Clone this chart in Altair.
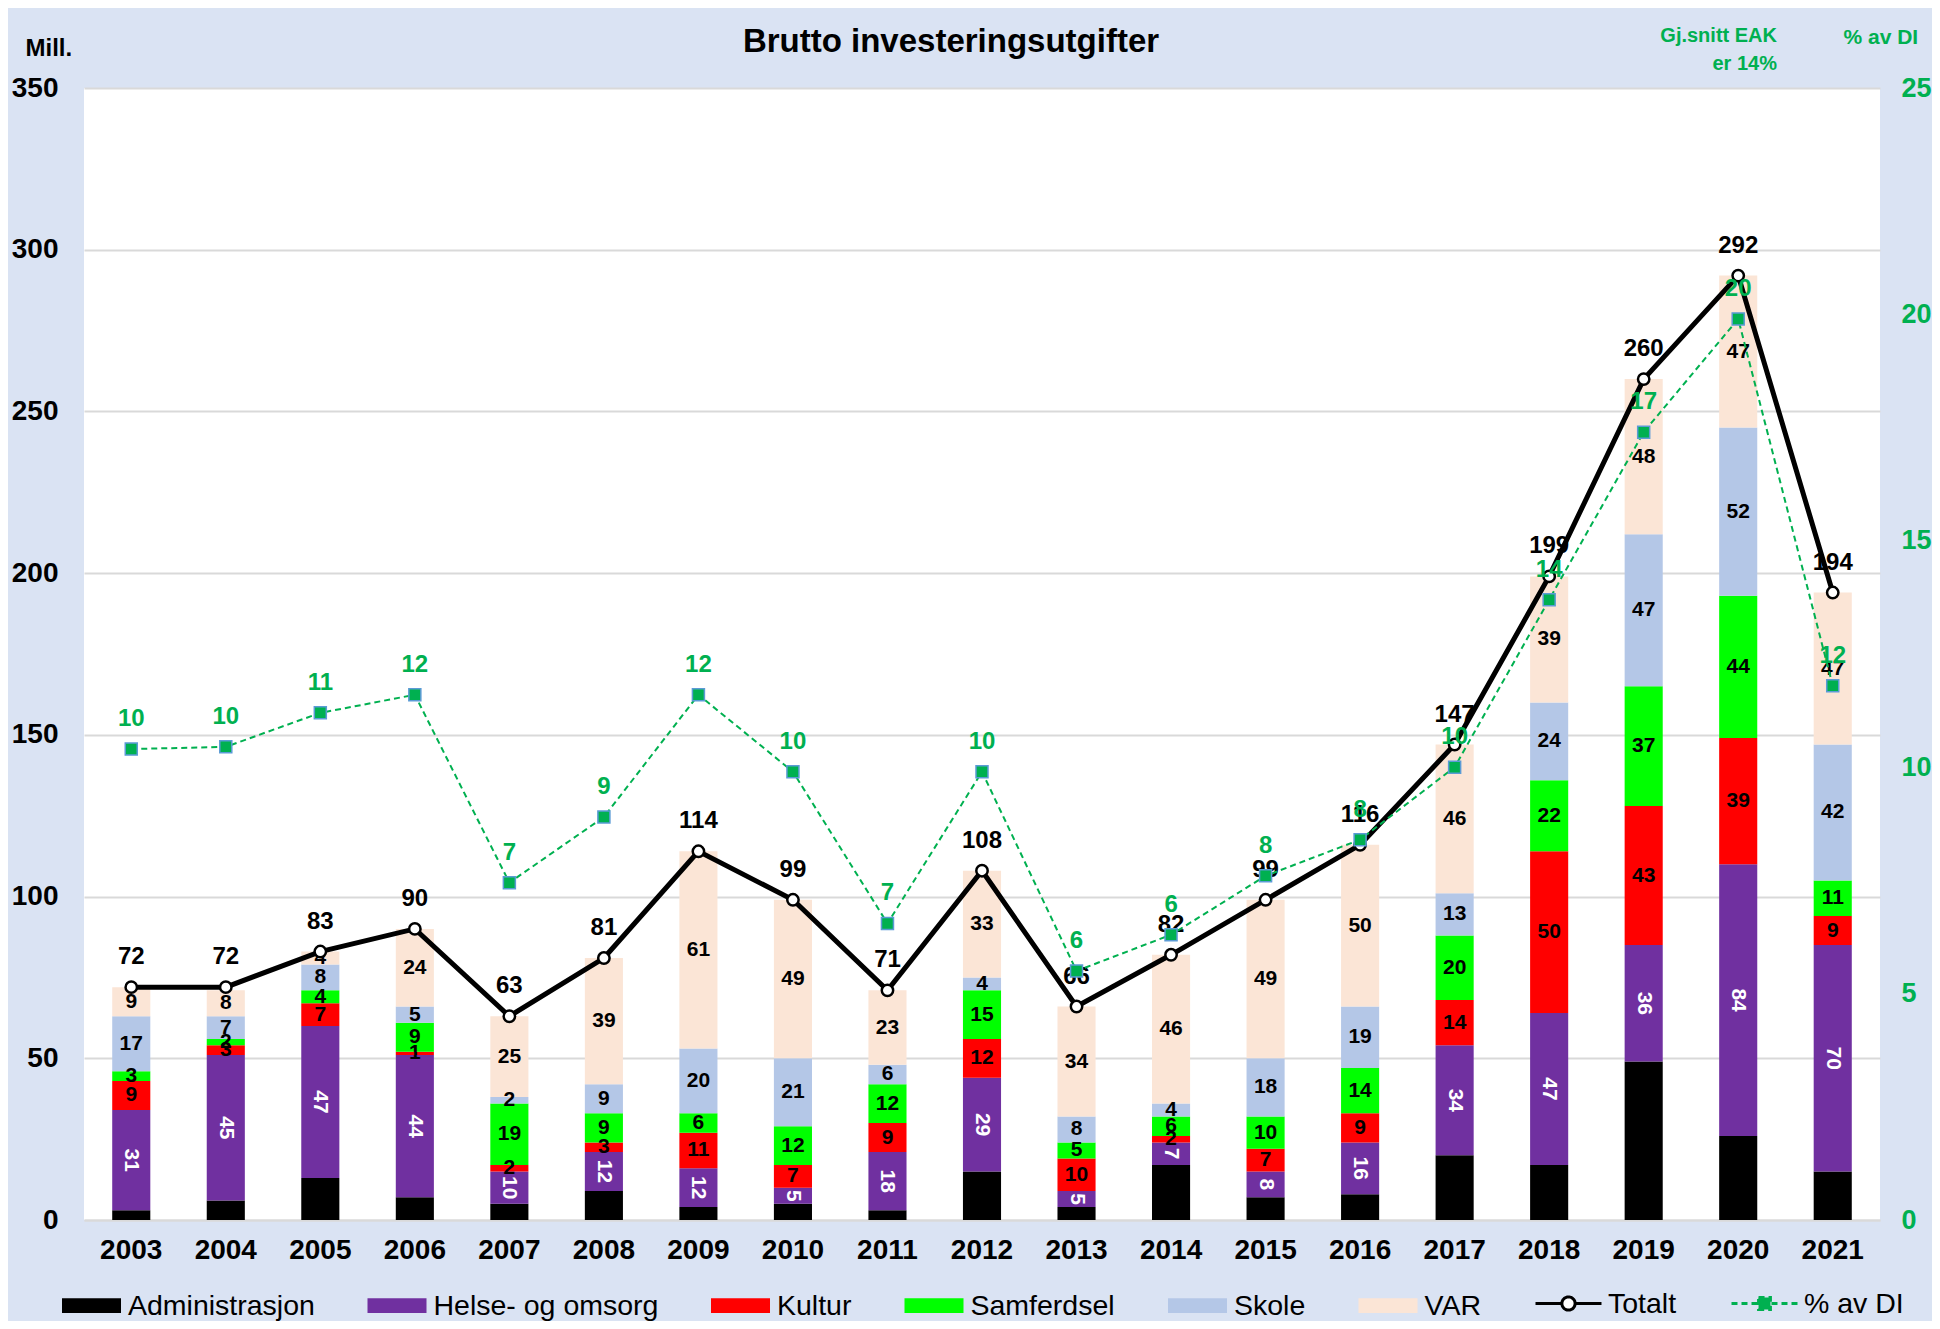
import altair as alt
import pandas as pd

years = [str(y) for y in range(2003, 2022)]
categories = ["Administrasjon", "Helse- og omsorg", "Kultur", "Samferdsel", "Skole", "VAR"]
administrasjon = [3, 6, 13, 7, 5, 9, 4, 5, 3, 15, 4, 17, 7, 8, 20, 17, 49, 26, 15]
helse = [31, 45, 47, 44, 10, 12, 12, 5, 18, 29, 5, 7, 8, 16, 34, 47, 36, 84, 70]
kultur = [9, 3, 7, 1, 2, 3, 11, 7, 9, 12, 10, 2, 7, 9, 14, 50, 43, 39, 9]
samferdsel = [3, 2, 4, 9, 19, 9, 6, 12, 12, 15, 5, 6, 10, 14, 20, 22, 37, 44, 11]
skole = [17, 7, 8, 5, 2, 9, 20, 21, 6, 4, 8, 4, 18, 19, 13, 24, 47, 52, 42]
var = [9, 8, 4, 24, 25, 39, 61, 49, 23, 33, 34, 46, 49, 50, 46, 39, 48, 47, 47]
totalt = [72, 72, 83, 90, 63, 81, 114, 99, 71, 108, 66, 82, 99, 116, 147, 199, 260, 292, 194]
andel_di = [10.4, 10.45, 11.2, 11.6, 7.45, 8.9, 11.6, 9.9, 6.55, 9.9, 5.5, 6.3, 7.6, 8.4, 10.0,
            13.7, 17.4, 19.9, 11.8]
series_names = ["Totalt", "% av DI"]
left_ticks = [0, 50, 100, 150, 200, 250, 300, 350]
right_ticks = [0, 5, 10, 15, 20, 25]
note_text = ["Gj.snitt EAK\ner 14%"]

FONT = "Liberation Sans, Arial, Helvetica, sans-serif"
GREEN = "#00B050"
colors = ["#000000", "#7030A0", "#FF0000", "#00FF00", "#B4C7E7", "#FBE5D6"]

series_values = [administrasjon, helse, kultur, samferdsel, skole, var]
rows = []
for i, yr in enumerate(years):
    for j, cat in enumerate(categories):
        rows.append({"year": yr, "kategori": cat, "idx": j, "value": series_values[j][i]})
bars_df = pd.DataFrame(rows)
line_df = pd.DataFrame({"year": years, "totalt": totalt, "di": andel_di})
legend_df = pd.DataFrame({"serie": series_names})
note_df = pd.DataFrame({"note": note_text})

x_enc = alt.X(
    "year:N", title=None, sort=years,
    scale=alt.Scale(paddingInner=0.597, paddingOuter=0.2985),
    axis=alt.Axis(labelAngle=0, labelFont=FONT, labelFontSize=28, labelFontWeight="bold",
                  labelColor="black", labelPadding=16, ticks=False, domain=True,
                  domainColor="#D9D9D9", domainWidth=2, grid=False),
)

left_scale = alt.Scale(domain=[0, 350], nice=False)
left_axis = alt.Axis(
    values=left_ticks, title="Mill.", titleAngle=0, titleAlign="left", titleBaseline="alphabetic",
    titleX=-59, titleY=-33, titleFont=FONT, titleFontSize=24, titleFontWeight="bold",
    titleColor="black", labelFont=FONT, labelFontSize=28, labelFontWeight="bold",
    labelColor="black", labelPadding=26, ticks=False, domain=False, grid=True,
    gridColor="#D9D9D9", gridWidth=2,
)
right_scale = alt.Scale(domain=[0, 25], nice=False)
right_axis = alt.Axis(
    orient="right", values=right_ticks, title="% av DI", titleAngle=0, titleAlign="left",
    titleBaseline="alphabetic", titleX=-37, titleY=-45, titleFont=FONT, titleFontSize=21,
    titleFontWeight="bold", titleColor=GREEN, labelFont=FONT, labelFontSize=27,
    labelFontWeight="bold", labelColor=GREEN, labelAlign="left", labelPadding=21,
    ticks=False, domain=False, grid=False,
)

bar_legend = alt.Legend(
    title=None, orient="none", legendX=-22, legendY=1188, direction="horizontal",
    symbolType="M-1,-0.25H1V0.25H-1Z", symbolSize=3481, symbolStrokeWidth=0,
    labelFont=FONT, labelFontSize=28.5, labelColor="black", labelOffset=7,
    columnPadding=52.5, padding=0, labelLimit=400,
)

bars = alt.Chart(bars_df).mark_bar(opacity=1).encode(
    x=x_enc,
    y=alt.Y("value:Q", stack="zero", scale=left_scale, axis=left_axis),
    color=alt.Color("kategori:N", scale=alt.Scale(domain=categories, range=colors),
                    legend=bar_legend),
    order=alt.Order("idx:Q", sort="ascending"),
)

seg = alt.Chart(bars_df).transform_stack(
    stack="value", groupby=["year"], as_=["y0", "y1"],
    sort=[alt.SortField("idx", order="ascending")],
).transform_calculate(mid="(datum.y0 + datum.y1) / 2")

seg_text = seg.transform_filter("datum.idx >= 2").mark_text(
    font=FONT, fontSize=21, fontWeight="bold", color="black", baseline="middle"
).encode(x=x_enc, y=alt.Y("mid:Q", scale=left_scale, axis=left_axis), text="value:Q")

helse_text = seg.transform_filter("datum.idx == 1").mark_text(
    font=FONT, fontSize=21, fontWeight="bold", color="white", angle=90, baseline="middle"
).encode(x=x_enc, y=alt.Y("mid:Q", scale=left_scale, axis=left_axis), text="value:Q")

y_tot = alt.Y("totalt:Q", scale=left_scale, axis=left_axis)
total_line = alt.Chart(line_df).mark_line(color="black", strokeWidth=5).encode(x=x_enc, y=y_tot)
total_pts = alt.Chart(line_df).mark_point(
    shape="circle", filled=True, fill="white", stroke="black", strokeWidth=2.5, size=130, opacity=1
).encode(x=x_enc, y=y_tot)
total_lbl = alt.Chart(line_df).mark_text(
    font=FONT, fontSize=24, fontWeight="bold", color="black", dy=-30, baseline="middle"
).encode(x=x_enc, y=y_tot, text="totalt:Q")

path_t = "M-1,0H-0.2M0.2,0H1M-0.2,0A0.2,0.2,0,1,1,0.2,0A0.2,0.2,0,1,1,-0.2,0Z"
path_d = "M-1,0H1M-0.18,-0.18H0.18V0.18H-0.18Z"
line_legend = alt.Legend(
    title=None, orient="none", legendX=1450, legendY=1181, direction="horizontal",
    symbolSize=4356, symbolStrokeWidth=3, labelFont=FONT, labelFontSize=28.5,
    labelColor="black", labelOffset=5, columnPadding=48, padding=0, labelLimit=400,
)
legend_layer = alt.Chart(legend_df).transform_filter("false").mark_point(
    filled=True, size=4356, strokeWidth=3, opacity=1
).encode(
    shape=alt.Shape("serie:N", scale=alt.Scale(domain=series_names, range=[path_t, path_d]),
                    legend=line_legend),
    fill=alt.Fill("serie:N", scale=alt.Scale(domain=series_names, range=["white", GREEN]),
                  legend=line_legend),
    stroke=alt.Stroke("serie:N", scale=alt.Scale(domain=series_names, range=["black", GREEN]),
                      legend=line_legend),
    strokeDash=alt.StrokeDash("serie:N",
                              scale=alt.Scale(domain=series_names, range=[[1, 0], [6, 4]]),
                              legend=line_legend),
)

note = alt.Chart(note_df).mark_text(
    font=FONT, fontSize=20, fontWeight="bold", color=GREEN, align="right",
    baseline="alphabetic", lineBreak="\n", lineHeight=28
).encode(x=alt.value(1693), y=alt.value(-46), text="note:N")

y_di = alt.Y("di:Q", scale=right_scale, axis=right_axis)
di_line = alt.Chart(line_df).mark_line(color=GREEN, strokeWidth=2, strokeDash=[6, 4]).encode(
    x=x_enc, y=y_di)
di_pts = alt.Chart(line_df).mark_point(
    shape="square", filled=True, fill=GREEN, stroke="#5B9BD5", strokeWidth=1.5, size=144, opacity=1
).encode(x=x_enc, y=y_di)
di_lbl = alt.Chart(line_df).mark_text(
    font=FONT, fontSize=24, fontWeight="bold", color=GREEN, dy=-30, baseline="middle"
).encode(x=x_enc, y=y_di, text=alt.Text("di:Q", format=".0f"))

left = alt.layer(bars, seg_text, helse_text, total_line, total_pts, total_lbl, legend_layer, note)
right = alt.layer(di_line, di_pts, di_lbl)

chart = alt.layer(left, right).resolve_scale(y="independent").properties(
    width=1796, height=1132,
    title=alt.Title("Brutto investeringsutgifter", font=FONT, fontSize=33, fontWeight="bold",
                    color="black", anchor="middle", frame="group", dx=-31, offset=-59,
                    baseline="alphabetic"),
    background="#DAE3F3",
    view=alt.ViewBackground(fill="white", strokeWidth=0),
    padding={"left": 76, "top": 80, "right": 52, "bottom": 101},
    autosize=alt.AutoSizeParams(type="none"),
).configure_view(fill="white", strokeWidth=0)

chart.save("out.html", embed_options={"renderer": "svg", "actions": False})
